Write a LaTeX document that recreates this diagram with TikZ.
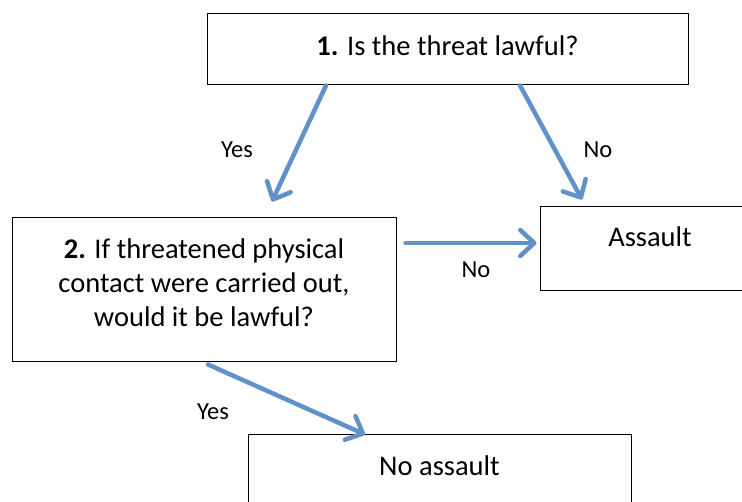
\documentclass[tikz,border=0pt]{standalone}
\usepackage{fontspec}
\setmainfont{Carlito}
\usetikzlibrary{arrows.meta,positioning}
\definecolor{flowblue}{RGB}{96,145,201}
\tikzset{
  box/.style={draw, line width=1pt, rectangle, inner sep=0pt},
  flow/.style={draw=flowblue, line width=4.5pt, line cap=round,
    -{Straight Barb[length=14pt,width=26pt,line cap=round,line join=round]}},
  tag/.style={font=\fontsize{24.5}{29}\selectfont, inner sep=0pt},
  txt/.style={font=\fontsize{28.5}{34}\selectfont, align=center, inner sep=0pt}
}

\begin{document}
\begin{tikzpicture}[x=1pt,y=-1pt]
\useasboundingbox (0,0) rectangle (742,502);
% boxes
\node[box, minimum width=481pt, minimum height=71pt] (q1) at (447.5,49.5) {};
\node[box, minimum width=384pt, minimum height=144pt] (q2) at (204,290) {};
\node[box, minimum width=220pt, minimum height=84pt] (yes) at (650,249) {};
\node[box, minimum width=383pt, minimum height=84pt] (no) at (439.5,477) {};
% texts
\node[txt] (q1t) at ([yshift=-32pt]q1.north) {\textbf{1.} Is the threat lawful?};
\node[txt] (q2t) at ([yshift=-65pt]q2.north) {\textbf{2.} If threatened physical\\contact were carried out,\\would it be lawful?};
\node[txt] (yest) at ([yshift=-30pt]yes.north) {Assault};
\node[txt] (not) at ([yshift=-31pt]no.north) {No assault};
% arrows
\draw[flow] ([xshift=-121.5pt]q1.south) -- ([xshift=68pt,yshift=16pt]q2.north);
\draw[flow] ([xshift=72.5pt]q1.south) -- ([xshift=-68pt,yshift=7pt]yes.north);
\draw[flow] ([xshift=9pt,yshift=47pt]q2.east) -- ([xshift=-3pt,yshift=6pt]yes.west);
\draw[flow] ([xshift=4pt,yshift=-2pt]q2.south) -- ([xshift=-74.5pt]no.north);
% labels
\node[tag] (l1) at (237,150) {Yes};
\node[tag] (l2) at (598,150) {No};
\node[tag] (l3) at (476,270) {No};
\node[tag] (l4) at (213,412) {Yes};
\end{tikzpicture}
\end{document}
